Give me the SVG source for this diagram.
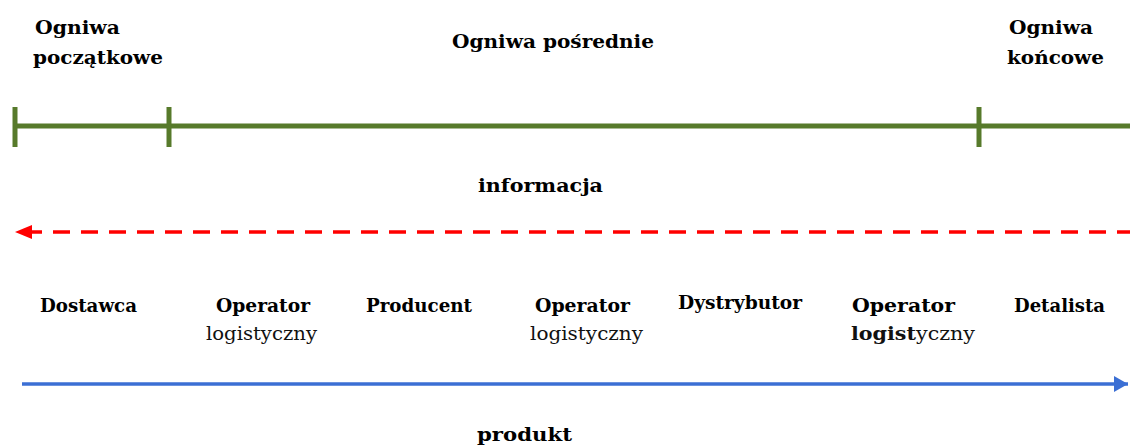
<svg xmlns="http://www.w3.org/2000/svg" width="1130" height="445" viewBox="0 0 1130 445">
  <style>
    .b { font-family: "DejaVu Serif", "Liberation Serif", serif; font-weight: bold; font-size: 18px; fill: #000; }
    .r { font-family: "DejaVu Serif", "Liberation Serif", serif; font-weight: normal; font-size: 18px; fill: #111; }
    .scale { stroke: #577a2b; stroke-width: 5; fill: none; }
    .info { stroke: #ff0000; stroke-width: 3.5; stroke-dasharray: 17 11; fill: none; }
    .flow { stroke: #3b6fd4; stroke-width: 3.5; fill: none; }
  </style>
  <defs>
    <marker id="head-red" markerUnits="userSpaceOnUse" markerWidth="18" markerHeight="16" refX="7" refY="8" orient="auto-start-reverse" viewBox="0 0 18 16">
      <path d="M0,1 L17,8 L0,15 Z" fill="#ff0000"/>
    </marker>
    <marker id="head-blue" markerUnits="userSpaceOnUse" markerWidth="16" markerHeight="16" refX="14" refY="8" orient="auto" viewBox="0 0 16 16">
      <path d="M0,0 L14,8 L0,16 Z" fill="#3b6fd4"/>
    </marker>
  </defs>
  <rect width="1130" height="445" fill="#fff"/>

  <!-- chain segment scale -->
  <g id="scale">
    <line class="scale" x1="13" y1="126" x2="1130" y2="126"/>
    <line class="scale" x1="15" y1="107" x2="15" y2="147"/>
    <line class="scale" x1="169" y1="107" x2="169" y2="147"/>
    <line class="scale" x1="979" y1="107" x2="979" y2="147"/>
  </g>

  <g id="seg-start">
    <text class="b" x="35" y="34" textLength="85" lengthAdjust="spacingAndGlyphs">Ogniwa</text>
    <text class="b" x="33" y="64" textLength="130" lengthAdjust="spacingAndGlyphs">początkowe</text>
  </g>
  <g id="seg-middle">
    <text class="b" x="452" y="48" textLength="202" lengthAdjust="spacingAndGlyphs">Ogniwa pośrednie</text>
  </g>
  <g id="seg-end">
    <text class="b" x="1009" y="34" textLength="84" lengthAdjust="spacingAndGlyphs">Ogniwa</text>
    <text class="b" x="1007" y="64" textLength="97" lengthAdjust="spacingAndGlyphs">końcowe</text>
  </g>

  <!-- flows -->
  <g id="connectors">
    <line class="info" x1="25" y1="232" x2="1130" y2="232" marker-start="url(#head-red)"/>
    <line class="flow" x1="22" y1="384" x2="1128" y2="384" marker-end="url(#head-blue)"/>
  </g>

  <g id="label-info">
    <text class="b" x="478" y="192" textLength="125" lengthAdjust="spacingAndGlyphs">informacja</text>
  </g>
  <g id="label-product">
    <text class="b" x="477" y="441" textLength="95" lengthAdjust="spacingAndGlyphs">produkt</text>
  </g>

  <!-- chain participants -->
  <g id="dostawca">
    <text class="b" x="40" y="312" textLength="97" lengthAdjust="spacingAndGlyphs">Dostawca</text>
  </g>
  <g id="operator-1">
    <text class="b" x="216" y="312" textLength="94" lengthAdjust="spacingAndGlyphs">Operator</text>
    <text class="r" x="206" y="340" textLength="111" lengthAdjust="spacingAndGlyphs">logistyczny</text>
  </g>
  <g id="producent">
    <text class="b" x="366" y="312" textLength="106" lengthAdjust="spacingAndGlyphs">Producent</text>
  </g>
  <g id="operator-2">
    <text class="b" x="535" y="312" textLength="95" lengthAdjust="spacingAndGlyphs">Operator</text>
    <text class="r" x="530" y="340" textLength="113" lengthAdjust="spacingAndGlyphs">logistyczny</text>
  </g>
  <g id="dystrybutor">
    <text class="b" x="678" y="309" font-size="16" textLength="124" lengthAdjust="spacingAndGlyphs">Dystrybutor</text>
  </g>
  <g id="operator-3">
    <text class="b" x="852" y="312" textLength="103" lengthAdjust="spacingAndGlyphs">Operator</text>
    <text class="r" x="851" y="340" textLength="124" lengthAdjust="spacingAndGlyphs"><tspan font-weight="bold">logist</tspan>yczny</text>
  </g>
  <g id="detalista">
    <text class="b" x="1014" y="312" textLength="91" lengthAdjust="spacingAndGlyphs">Detalista</text>
  </g>
</svg>
